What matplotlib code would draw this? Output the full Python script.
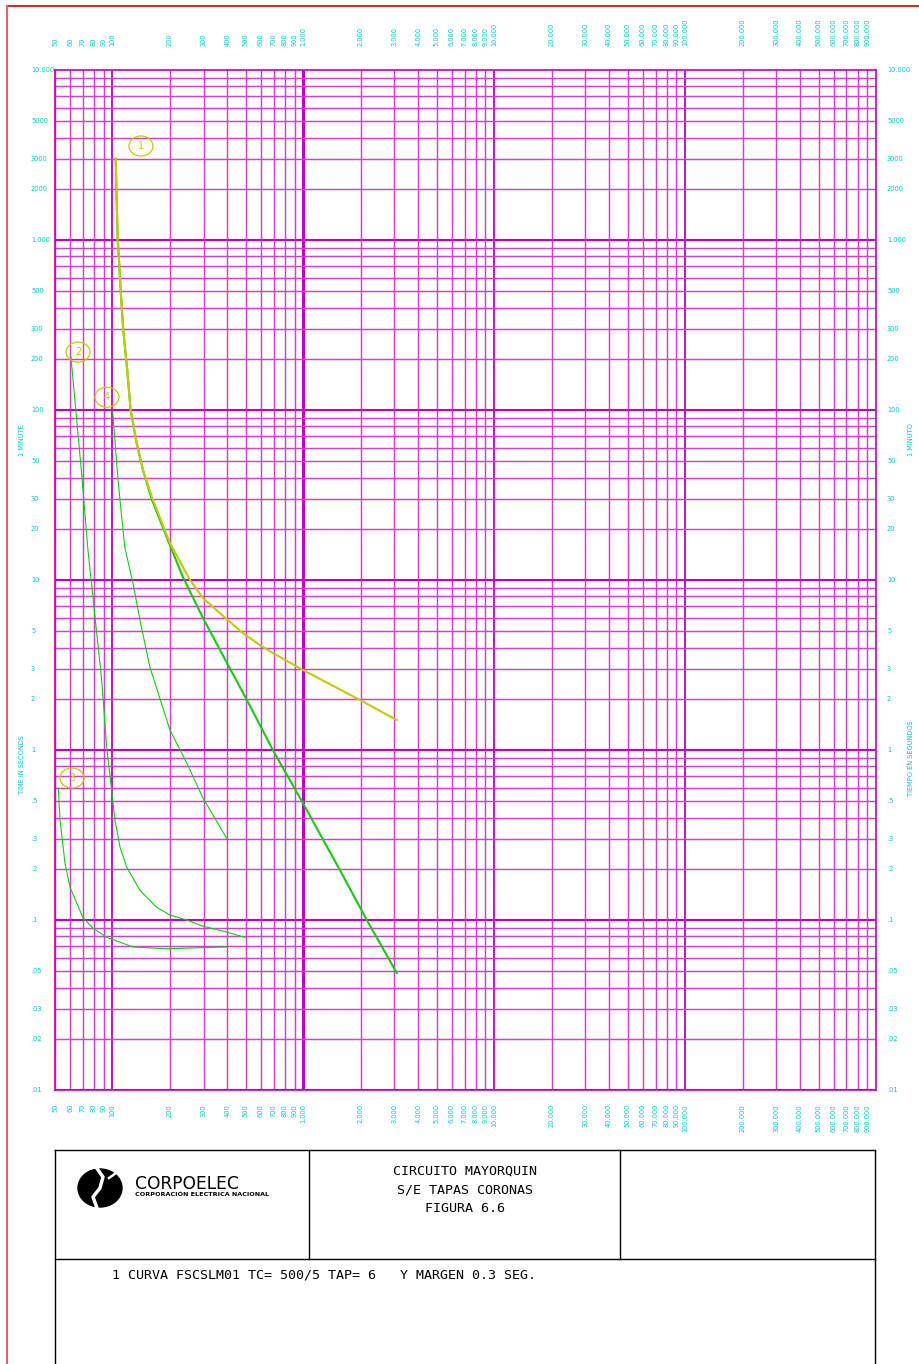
import matplotlib
matplotlib.use("Agg")
import matplotlib.pyplot as plt
import matplotlib.transforms as mtransforms
from matplotlib.patches import Ellipse

W, H = 919, 1364
CYAN = '#00C8C8'
MAG = '#C000C0'
MAG_MINOR = '#D040D0'
YEL = '#C8C800'
GRN = '#11CC11'

# current axis ticks (amperes)
x_ticks = [50, 60, 70, 80, 90,
           100, 200, 300, 400, 500, 600, 700, 800, 900,
           1000, 2000, 3000, 4000, 5000, 6000, 7000, 8000, 9000,
           10000, 20000, 30000, 40000, 50000, 60000, 70000, 80000, 90000,
           100000, 200000, 300000, 400000, 500000, 600000, 700000, 800000, 900000]
x_labels = [f"{v:,}".replace(",", ".") for v in x_ticks]

# time axis ticks (seconds)
y_ticks = [10000, 5000, 3000, 2000, 1000, 500, 300, 200, 100, 50, 30, 20,
           10, 5, 3, 2, 1, .5, .3, .2, .1, .05, .03, .02, .01]
y_labels = ["10.000", "5000", "3000", "2000", "1.000", "500", "300", "200",
            "100", "50", "30", "20", "10", "5", "3", "2", "1",
            ".5", ".3", ".2", ".1", ".05", ".03", ".02", ".01"]

# curve 1 (yellow)
c1_i = [104, 105.2, 106.5, 108.2, 110.8, 113.9, 119.5, 124.5, 133.9, 144.4, 163, 200,
        255, 298, 390, 482, 592, 692, 994, 1977, 3087]
c1_t = [3000, 1719, 1000, 763, 475, 295.6, 171.9, 100, 63.9, 44.4, 29.6, 16.5,
        10, 7.83, 5.98, 4.88, 4.14, 3.72, 2.96, 1.97, 1.5]

# thick green curve
c5_i = [104, 105.2, 106.5, 108.2, 110.8, 113.9, 119.5, 124.5, 133.9, 144.4, 161, 195,
        234, 298, 398, 506, 692, 994, 1553, 2150, 3087]
c5_t = [3000, 1719, 1000, 763, 475, 295.6, 171.9, 100, 63.9, 44.4, 29.6, 17.2,
        10.4, 5.98, 3.25, 1.97, 1.0, 0.488, 0.197, 0.1, 0.0488]

# curve 2
c2_i = [60.6, 69.2, 74.4, 87.8, 93.3, 99, 103, 109.5, 118.7, 139, 170, 200, 245, 298, 396, 494]
c2_t = [205, 40.3, 15.0, 2.58, 1.04, 0.582, 0.388, 0.269, 0.205, 0.150, 0.119, 0.107,
        0.100, 0.092, 0.085, 0.079]

# curve 3
c3_i = [52, 53.1, 56.4, 59.9, 70.1, 79, 93.6, 128, 193, 287, 397]
c3_t = [0.598, 0.388, 0.216, 0.156, 0.103, 0.0897, 0.079, 0.0694, 0.0677, 0.0687, 0.0694]

# curve 4
c4_i = [100.3, 107, 109.5, 116, 128, 141, 157, 200, 245, 298, 396]
c4_t = [97.3, 38.7, 29.6, 15.6, 9.6, 5.44, 3.08, 1.31, 0.839, 0.522, 0.303]

# circled curve numbers
tag_names = ["1", "2", "4", "3"]
tag_i = [141, 66, 93.6, 61.4]
tag_t = [3572, 219, 119, 0.684]

fig = plt.figure(figsize=(W / 100, H / 100), dpi=100)

# page layer in pixel coordinates
bg = fig.add_axes([0, 0, 1, 1])
bg.set_xlim(0, W)
bg.set_ylim(H, 0)
bg.axis('off')

# red sheet border
bg.plot([7, W], [6, 6], color='#CC0000', lw=1.2)
bg.plot([7, 7], [6, H], color='#DD6666', lw=1.5)

# title block
bg.plot([55, 55], [1150, H], color='black', lw=1)
bg.plot([875, 875], [1150, H], color='black', lw=1)
bg.plot([55, 875], [1150, 1150], color='black', lw=1)
bg.plot([55, 875], [1259, 1259], color='black', lw=1)
bg.plot([309, 309], [1150, 1259], color='black', lw=1)
bg.plot([620, 620], [1150, 1259], color='black', lw=1)

# logo
bg.add_patch(Ellipse((100, 1188), 44, 38, color='black'))
bg.plot([96, 103, 100, 93, 97], [1167, 1177, 1188, 1197, 1208], color='white', lw=2.5,
        solid_capstyle='round')
bg.plot([109, 116, 121], [1178, 1173, 1166], color='white', lw=1.8)
bg.text(135, 1184, "CORPOELEC", fontsize=12.3, color='black', ha='left', va='center')
bg.text(135, 1194, "CORPORACIÓN ELECTRICA NACIONAL", fontsize=4.6, fontweight='bold',
        color='black', ha='left', va='center')

mono = 'DejaVu Sans Mono'
title_lines = ["CIRCUITO MAYORQUIN", "S/E TAPAS CORONAS", "FIGURA 6.6"]
for k, line in enumerate(title_lines):
    bg.text(465, 1171 + k * 19, line, fontsize=9.6, family=mono, color='black',
            ha='center', va='center')
bg.text(112, 1275, "1 CURVA FSCSLM01 TC= 500/5 TAP= 6   Y MARGEN 0.3 SEG.", fontsize=9.6,
        family=mono, color='black', ha='left', va='center')

# axis titles
bg.text(22, 440, "1 MINUTE", fontsize=4.8, color=CYAN, rotation=90, ha='center', va='center')
bg.text(22, 765, "TIME IN SECONDS", fontsize=4.8, color=CYAN, rotation=90, ha='center', va='center')
bg.text(911, 440, "1 MINUTO", fontsize=4.8, color=CYAN, rotation=90, ha='center', va='center')
bg.text(911, 758, "TIEMPO EN SEGUNDOS", fontsize=4.8, color=CYAN, rotation=90, ha='center', va='center')

# main log-log grid
ax = fig.add_axes([55 / W, 1 - 1090 / H, 821 / W, 1020 / H])
ax.set_xscale('log')
ax.set_yscale('log')
ax.set_xlim(50, 1e6)
ax.set_ylim(0.01, 10000)
ax.set_xticks([])
ax.set_yticks([])
ax.minorticks_off()
ax.tick_params(which='both', length=0, labelbottom=False, labelleft=False)
for s in ax.spines.values():
    s.set_color(MAG)
    s.set_linewidth(1.2)

for e in range(1, 6):
    for m in range(1, 10):
        v = m * 10 ** e
        if v < 50 or v >= 1e6:
            continue
        if v == 1000:
            ax.axvline(v, color=MAG, lw=2.2, zorder=1)
        elif m == 1:
            ax.axvline(v, color=MAG, lw=1.3, zorder=1)
        else:
            ax.axvline(v, color=MAG_MINOR, lw=1.05, zorder=1)
for e in range(-2, 4):
    for m in range(1, 10):
        v = m * 10.0 ** e
        if m == 1:
            ax.axhline(v, color=MAG, lw=1.5, zorder=1)
        else:
            ax.axhline(v, color=MAG_MINOR, lw=1.05, zorder=1)

ax.plot(c5_i, c5_t, color=GRN, lw=1.5, zorder=3)
ax.plot(c1_i, c1_t, color=YEL, lw=1.5, zorder=4)
ax.plot(c2_i, c2_t, color=GRN, lw=0.8, zorder=3)
ax.plot(c3_i, c3_t, color=GRN, lw=0.8, zorder=3)
ax.plot(c4_i, c4_t, color=GRN, lw=0.8, zorder=3)

for name, xi, yt in zip(tag_names, tag_i, tag_t):
    tr = fig.dpi_scale_trans + mtransforms.ScaledTranslation(xi, yt, ax.transData)
    ax.add_patch(Ellipse((0, 0), 0.24, 0.20, transform=tr, fill=False, ec=YEL, lw=0.9,
                         zorder=5, clip_on=False))
    ax.text(xi, yt, name, fontsize=7, color=YEL, ha='center', va='center', zorder=5)

# tick labels, top/bottom and left/right
xt = mtransforms.blended_transform_factory(ax.transData, ax.transAxes)
for v, s in zip(x_ticks, x_labels):
    ax.text(v, 1 + 24 / 1020, s, transform=xt, rotation=90, ha='center', va='bottom',
            fontsize=4.8, color=CYAN, clip_on=False)
    ax.text(v, -14 / 1020, s, transform=xt, rotation=90, ha='center', va='top',
            fontsize=4.8, color=CYAN, clip_on=False)

yt_tr = mtransforms.blended_transform_factory(ax.transAxes, ax.transData)
for v, s in zip(y_ticks, y_labels):
    ax.text(-24 / 821, v, s, transform=yt_tr, ha='left', va='center',
            fontsize=4.8, color=CYAN, clip_on=False)
    ax.text(1 + 11 / 821, v, s, transform=yt_tr, ha='left', va='center',
            fontsize=4.8, color=CYAN, clip_on=False)

fig.savefig("out.png", dpi=100)
